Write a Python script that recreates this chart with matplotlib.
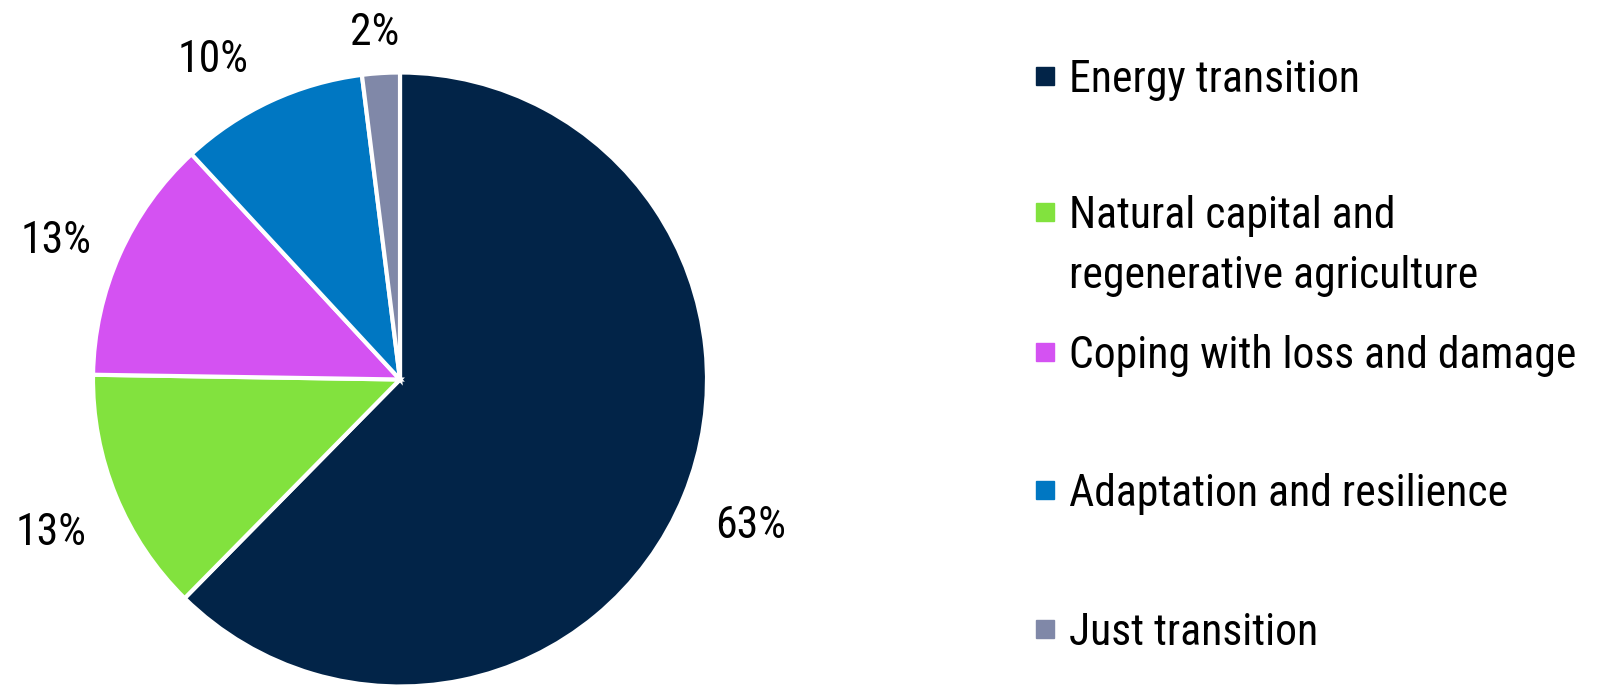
import numpy as np
import matplotlib.pyplot as plt
import matplotlib.font_manager as fm
from matplotlib.patches import Rectangle

installed = {f.name for f in fm.fontManager.ttflist}
for fam in ["Roboto Condensed", "Archivo Narrow", "Sofia Sans Condensed", "DejaVu Sans"]:
    if fam in installed:
        break
plt.rcParams['font.family'] = [fam, 'DejaVu Sans']

categories = ["Energy transition",
              "Natural capital and\nregenerative agriculture",
              "Coping with loss and damage",
              "Adaptation and resilience",
              "Just transition"]
shares = [63, 13, 13, 10, 2]
colors = ["#022448", "#82E23E", "#D452F2", "#0077C2", "#8088A8"]

# label placement (in radii / degrees) to follow the original's outside labels
label_dist = [1.233, 1.235, 1.213, 1.217, 1.146]
label_nudge = [0.3, 0.8, 1.4, 5.0, 0.6]

W, H = 1600, 694
fs = 31.5
fig = plt.figure(figsize=(W / 100, H / 100), dpi=100)

# pie centre (400, 379.5) px from top-left, radius ~307 px
r = 307
cx, cy = 400, H - 379.5
ax = fig.add_axes([(cx - r) / W, (cy - r) / H, 2 * r / W, 2 * r / H])
wedges, _ = ax.pie(shares, colors=colors, startangle=90, counterclock=False,
                   wedgeprops=dict(edgecolor="white", linewidth=3))
for w, v, d, nd in zip(wedges, shares, label_dist, label_nudge):
    a = np.deg2rad((w.theta1 + w.theta2) / 2 + nd)
    ax.text(d * np.cos(a), d * np.sin(a), f"{v}%", fontsize=fs,
            ha="center", va="center_baseline", clip_on=False)
ax.set_xlim(-1, 1)
ax.set_ylim(-1, 1)
ax.set_aspect("equal")
ax.axis("off")

# legend, drawn by hand: squares + labels, rows ~138.5 px apart
base_y = [92, 228, 368, 506, 645]
sq = 18
for lab, col, y in zip(categories, colors, base_y):
    fig.patches.append(Rectangle((1036 / W, (H - y + 16 - sq / 2) / H), sq / W, sq / H,
                                 transform=fig.transFigure, color=col))
    for k, line in enumerate(lab.split("\n")):
        fig.text(1069 / W, (H - y - 60 * k) / H, line, fontsize=fs,
                 ha="left", va="baseline")

fig.savefig("out.png", dpi=100)
